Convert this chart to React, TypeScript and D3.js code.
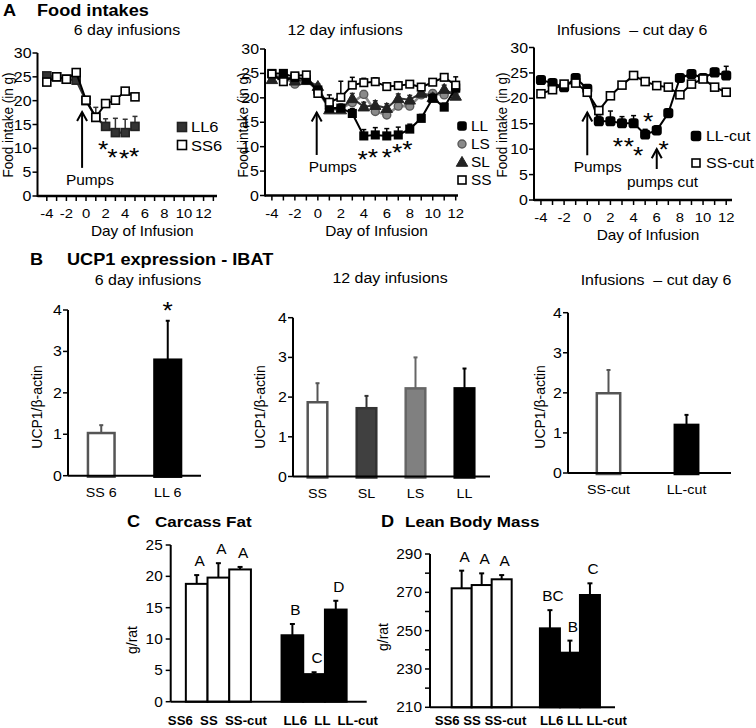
import React, { useEffect } from 'react';
import * as d3 from 'd3';

const FONT = '"Liberation Sans", Arial, Helvetica, sans-serif';
const SX = 1.1;

// ===== Panel A — food intake (g) per day of infusion =====
const days6 = [-4, -3, -2, -1, 0, 1, 2, 3, 4, 5];
const intakeLL6 = [25.2, 25.0, 24.5, 24.3, 20.0, 16.5, 14.6, 13.3, 13.3, 14.6];
const errLL6 = [0.5, 0.5, 0.6, 0.7, 0.6, 2.1, 1.6, 3.0, 2.8, 2.1];
const intakeSS6 = [23.9, 25.0, 24.5, 25.9, 20.1, 16.5, 19.4, 20.1, 22.0, 20.8];
const errSS6 = [0.5, 0.4, 0.6, 0.5, 0.6, 0.8, 0.6, 0.6, 0.6, 0.6];

const days12 = [-4, -3, -2, -1, 0, 1, 2, 3, 4, 5, 6, 7, 8, 9, 10, 11, 12];
const intakeSS = [24.9, 23.3, 24.5, 24.7, 20.9, 19.1, 20.1, 22.6, 23.1, 23.3, 22.3, 22.5, 22.8, 22.2, 23.2, 24.2, 22.6];
const errSS = [0.8, 0.5, 0.5, 0.6, 0.5, 1.5, 3.3, 1.6, 0.9, 0.8, 0.7, 0.8, 0.7, 0.7, 0.7, 0.7, 1.7];
const intakeLL = [25.0, 25.0, 24.2, 23.7, 21.6, 17.9, 17.9, 16.8, 12.2, 12.4, 12.2, 12.4, 13.6, 15.8, 19.9, 18.1, 22.0];
const errLL = [0.5, 0.5, 0.6, 0.6, 0.6, 0.6, 0.8, 1.0, 1.3, 1.5, 1.5, 1.6, 1.0, 0.8, 0.8, 0.8, 0.8];
const intakeLS = [24.5, 24.3, 22.8, 23.6, 21.5, 17.8, 17.9, 19.0, 20.7, 17.2, 16.5, 18.3, 18.3, 20.6, 20.9, 20.6, 21.6];
const errLS = [0.5, 0.5, 0.6, 0.5, 0.5, 0.6, 0.6, 0.7, 0.8, 0.7, 0.7, 0.7, 0.7, 0.7, 0.7, 0.7, 0.7];
const intakeSL = [23.8, 24.6, 23.5, 23.6, 22.4, 17.6, 17.6, 19.9, 18.2, 18.5, 17.9, 19.9, 19.6, 21.0, 20.1, 21.8, 20.4];
const errSL = [0.5, 0.5, 0.5, 0.5, 0.5, 0.6, 0.6, 1.0, 0.9, 0.9, 0.9, 0.9, 0.9, 0.8, 0.8, 0.8, 1.6];

const daysCut = [-4, -3, -2, -1, 0, 1, 2, 3, 4, 5, 6, 7, 8, 9, 10, 11, 12];
const intakeLLcut = [23.6, 23.0, 22.2, 24.0, 21.9, 15.5, 15.5, 15.1, 15.1, 12.9, 13.7, 17.1, 24.0, 24.8, 24.0, 25.1, 24.5];
const errLLcut = [0.5, 0.5, 0.5, 0.5, 0.6, 1.0, 2.0, 1.3, 1.5, 1.0, 0.9, 0.6, 0.6, 0.6, 0.6, 0.8, 1.8];
const intakeSScut = [20.9, 21.7, 22.8, 23.0, 21.2, 17.6, 20.5, 22.6, 24.5, 23.3, 22.5, 22.2, 20.7, 22.8, 23.8, 22.2, 21.2];
const errSScut = [0.5, 0.5, 0.5, 0.5, 0.5, 0.6, 0.5, 0.5, 0.5, 0.5, 0.5, 0.5, 0.5, 0.5, 0.7, 0.5, 0.5];

const intakeTicks = [0, 5, 10, 15, 20, 25, 30];
const dayTickLabels = [-4, -2, 0, 2, 4, 6, 8, 10, 12];

// significance stars (day, value)
const stars6Days = [1.75, 2.7, 3.9, 4.9];
const stars6Vals = [10.7, 9.0, 8.8, 9.2];
const stars12Days = [3.9, 4.8, 6.0, 6.9, 7.8];
const stars12Vals = [8.3, 8.7, 8.7, 9.7, 10.3];
const starsCutDays = [2.65, 3.6, 4.4, 5.25, 6.6];
const starsCutVals = [11.4, 11.4, 9.6, 16.3, 10.8];

// ===== Panel B — UCP1 expression =====
const ucp6Cats = ['SS 6', 'LL 6'];
const ucp6 = [1.03, 2.8];
const ucp6Err = [0.19, 0.94];
const ucp12Cats = ['SS', 'SL', 'LS', 'LL'];
const ucp12 = [1.87, 1.72, 2.22, 2.22];
const ucp12Err = [0.48, 0.31, 0.78, 0.5];
const ucpCutCats = ['SS-cut', 'LL-cut'];
const ucpCut = [1.99, 1.2];
const ucpCutErr = [0.58, 0.25];
const ucpTicks = [0, 1, 2, 3, 4];

// ===== Panel C — carcass fat =====
const groupKeys = ['SS', 'LL'];
const ssCats = ['SS6', 'SS', 'SS-cut'];
const llCats = ['LL6', 'LL', 'LL-cut'];
const fatSS = [18.8, 19.8, 21.1];
const fatSSErr = [1.4, 2.3, 0.4];
const fatSSLetters = ['A', 'A', 'A'];
const fatLL = [10.6, 4.4, 14.7];
const fatLLErr = [1.8, 0.3, 1.4];
const fatLLLetters = ['B', 'C', 'D'];
const fatTicks = [0, 5, 10, 15, 20, 25];

// ===== Panel D — lean body mass =====
const leanSS = [272.1, 273.8, 276.8];
const leanSSErr = [9.2, 6.1, 2.2];
const leanSSLetters = ['A', 'A', 'A'];
const leanLL = [251.2, 238.5, 268.6];
const leanLLErr = [9.5, 6.3, 6.1];
const leanLLLetters = ['BC', 'B', 'C'];
const leanTicks = [210, 230, 250, 270, 290];
const leanMinorTicks = [220, 240, 260, 280];

function Txt({ x, y, size = 13, anchor = 'start', weight = 'normal', fill = '#000', rot = false, children }: any) {
  const tr = rot
    ? `translate(${x},${y}) rotate(-90) scale(1,${SX})`
    : `translate(${x},${y}) scale(${SX},1)`;
  return (
    <text transform={tr} fontSize={size} textAnchor={anchor} fontWeight={weight} fill={fill}
      fontFamily={FONT} style={{ whiteSpace: 'pre' }}>{children}</text>
  );
}

function Mark({ shape, cx, cy, size, fill, stroke, rx = 0 }: any) {
  if (shape === 'square')
    return <rect x={cx - size / 2} y={cy - size / 2} width={size} height={size} rx={rx} fill={fill} stroke={stroke} strokeWidth={1.6} />;
  if (shape === 'circle')
    return <circle cx={cx} cy={cy} r={size / 2} fill={fill} stroke={stroke} strokeWidth={1.4} />;
  const p = d3.symbol(d3.symbolTriangle, size * size * 0.7)() as string;
  return <path d={p} transform={`translate(${cx},${cy + 1})`} fill={fill} stroke={stroke} strokeWidth={1} />;
}

function Arrow({ x, yTail, yHead }: any) {
  return (
    <g stroke="#000" strokeWidth={2} fill="none">
      <line x1={x} x2={x} y1={yTail} y2={yHead} />
      <path d={`M${x - 5},${yHead + 9}L${x},${yHead}L${x + 5},${yHead + 9}`} />
    </g>
  );
}

function LinePanel({ x, y, series, starDays, starVals }: any) {
  const [x0, x1] = x.range();
  const yb = y(0);
  const [d0, d1] = x.domain();
  const tickDays = d3.range(Math.ceil(d0), Math.floor(d1) + 1);
  return (
    <g>
      {series.map((s: any, si: number) => {
        const pts = s.days.map((d: number, i: number) => [x(d), y(s.vals[i])] as [number, number]);
        const path = d3.line()(pts) as string;
        return (
          <g key={si}>
            <path d={path} fill="none" stroke={s.line} strokeWidth={s.lw} />
            {s.err && s.days.map((d: number, i: number) => {
              const xt = x(d), ya = y(s.vals[i]), yt = y(s.vals[i] + s.err[i]);
              return (
                <g key={i} stroke={s.line} strokeWidth={1.5}>
                  <line x1={xt} x2={xt} y1={ya} y2={yt} />
                  <line x1={xt - 2.5} x2={xt + 2.5} y1={yt} y2={yt} />
                </g>
              );
            })}
            {s.days.map((d: number, i: number) => (
              <Mark key={i} shape={s.shape} cx={x(d)} cy={y(s.vals[i])} size={s.size} fill={s.fill} stroke={s.stroke} rx={s.rx || 0} />
            ))}
          </g>
        );
      })}
      {/* y axis */}
      <line x1={x0} x2={x0} y1={y(30)} y2={yb + 1} stroke="#000" strokeWidth={2} />
      {intakeTicks.map((t) => (
        <g key={t}>
          <line x1={x0 - 5} x2={x0} y1={y(t)} y2={y(t)} stroke="#000" strokeWidth={1.5} />
          <Txt x={x0 - 6} y={y(t) + 5} size={14.5} anchor="end">{t}</Txt>
        </g>
      ))}
      {/* x axis */}
      <line x1={x0} x2={x1} y1={yb} y2={yb} stroke="#000" strokeWidth={2.5} />
      {tickDays.map((t) => (
        <line key={t} x1={x(t)} x2={x(t)} y1={yb} y2={yb + 5} stroke="#000" strokeWidth={1.5} />
      ))}
      {dayTickLabels.map((d) => (
        <Txt key={d} x={x(d)} y={yb + 22} size={13.5} anchor="middle">{String(d)}</Txt>
      ))}
      <Txt x={(x0 + x1) / 2 + 15} y={yb + 40} size={14} anchor="middle">Day of Infusion</Txt>
      {starDays.map((d: number, i: number) => (
        <Txt key={i} x={x(d)} y={y(starVals[i]) + 13} size={24} anchor="middle">*</Txt>
      ))}
    </g>
  );
}

function BarPanel({ x, y, cats, vals, errs, fills, strokes, axisStart, axisEnd, star }: any) {
  const yb = y(0);
  return (
    <g>
      {cats.map((c: string, i: number) => {
        const bx = x(c) as number, bw = x.bandwidth();
        const cx = bx + bw / 2;
        const yt = y(vals[i]), ye = y(vals[i] + errs[i]);
        return (
          <g key={c}>
            <line x1={cx} x2={cx} y1={yt} y2={ye} stroke={strokes[i]} strokeWidth={2} />
            <line x1={cx - 2} x2={cx + 2} y1={ye} y2={ye} stroke={strokes[i]} strokeWidth={2} />
            <rect x={bx} y={yt} width={bw} height={yb - yt + 1} fill={fills[i]} stroke={strokes[i]} strokeWidth={2.5} />
            <Txt x={cx} y={yb + 21} size={13} anchor="middle">{c}</Txt>
            {star && star[i] ? <Txt x={cx} y={ye - 2} size={24} anchor="middle">{star[i]}</Txt> : null}
          </g>
        );
      })}
      <line x1={axisStart} x2={axisStart} y1={y(4)} y2={yb} stroke="#000" strokeWidth={2} />
      {ucpTicks.map((t) => (
        <g key={t}>
          <line x1={axisStart - 5} x2={axisStart} y1={y(t)} y2={y(t)} stroke="#000" strokeWidth={1.5} />
          <Txt x={axisStart - 6} y={y(t) + 5} size={14.5} anchor="end">{t}</Txt>
        </g>
      ))}
      <line x1={axisStart} x2={axisEnd} y1={yb} y2={yb} stroke="#000" strokeWidth={2} />
    </g>
  );
}

function GroupBars({ g, y, base, groups, axisStart, axisEnd, ticks, minor, labelOffsets, labelStrings, labelY }: any) {
  const yb = y(base);
  const top = y.domain()[1];
  return (
    <g>
      {groups.map((grp: any, gi: number) => {
        const gs = g(grp.key) as number;
        const inner = d3.scaleBand().domain(grp.cats).range([gs, gs + g.bandwidth()]).padding(0);
        return (
          <g key={grp.key}>
            {grp.cats.map((c: string, i: number) => {
              const bx = inner(c) as number, bw = inner.bandwidth();
              const cx = bx + bw / 2;
              const yt = y(grp.vals[i]), ye = y(grp.vals[i] + grp.errs[i]);
              return (
                <g key={c}>
                  <line x1={cx} x2={cx} y1={yt} y2={ye} stroke="#000" strokeWidth={2} />
                  <line x1={cx - 2.5} x2={cx + 2.5} y1={ye} y2={ye} stroke="#000" strokeWidth={2} />
                  <rect x={bx} y={yt} width={bw} height={yb - yt} fill={grp.fill} stroke="#000" strokeWidth={2} />
                  <Txt x={cx + 3} y={ye - 9} size={14} anchor="middle">{grp.letters[i]}</Txt>
                </g>
              );
            })}
            <Txt x={gs + labelOffsets[gi]} y={labelY} size={12} weight="bold">{labelStrings[gi]}</Txt>
          </g>
        );
      })}
      <line x1={axisStart} x2={axisStart} y1={y(top)} y2={yb} stroke="#000" strokeWidth={2} />
      {ticks.map((t: number) => (
        <g key={t}>
          <line x1={axisStart - 5} x2={axisStart} y1={y(t)} y2={y(t)} stroke="#000" strokeWidth={1.5} />
          <Txt x={axisStart - 8} y={y(t) + 5} size={14} anchor="end">{t}</Txt>
        </g>
      ))}
      {(minor || []).map((t: number) => (
        <line key={t} x1={axisStart - 5} x2={axisStart} y1={y(t)} y2={y(t)} stroke="#000" strokeWidth={1.5} />
      ))}
      <line x1={axisStart} x2={axisEnd} y1={yb} y2={yb} stroke="#000" strokeWidth={2} />
    </g>
  );
}

export default function App() {
  useEffect(() => {
    document.body.style.margin = '0';
  }, []);

  // ---- A scales
  const xA1 = d3.scaleLinear().domain([-4.95, 13.37]).range([37.5, 217]);
  const yA1 = d3.scaleLinear().domain([0, 30]).range([196, 53]);
  const xA2 = d3.scaleLinear().domain([-4.6, 12.2]).range([265, 458]);
  const yA2 = d3.scaleLinear().domain([0, 30]).range([195.5, 49]);
  const xA3 = d3.scaleLinear().domain([-4.6, 12.5]).range([534, 732]);
  const yA3 = d3.scaleLinear().domain([0, 30]).range([200, 47.5]);

  const openSq = { shape: 'square', fill: '#fff', stroke: '#000', line: '#000', lw: 2, size: 8 };
  const seriesA1 = [
    { days: days6, vals: intakeLL6, err: errLL6, shape: 'square', fill: '#333', stroke: '#222', line: '#333', lw: 2.2, size: 8 },
    { days: days6, vals: intakeSS6, err: errSS6, ...openSq },
  ];
  const seriesA2 = [
    { days: days12, vals: intakeLS, err: errLS, shape: 'circle', fill: '#8a8a8a', stroke: '#5a5a5a', line: '#8a8a8a', lw: 2.6, size: 8 },
    { days: days12, vals: intakeSL, err: errSL, shape: 'triangle', fill: '#222', stroke: '#222', line: '#333', lw: 2, size: 9 },
    { days: days12, vals: intakeLL, err: errLL, shape: 'square', fill: '#000', stroke: '#000', line: '#000', lw: 2, size: 7.5 },
    { days: days12, vals: intakeSS, err: errSS, ...openSq, size: 7.5 },
  ];
  const seriesA3 = [
    { days: daysCut, vals: intakeLLcut, err: errLLcut, shape: 'square', fill: '#000', stroke: '#000', line: '#000', lw: 2, size: 8.5, rx: 2 },
    { days: daysCut, vals: intakeSScut, err: errSScut, ...openSq },
  ];

  // ---- B scales
  const xB1 = d3.scaleBand().domain(ucp6Cats).range([68, 201]).paddingInner(0.6).paddingOuter(0.3);
  const yB1 = d3.scaleLinear().domain([0, 4]).range([475.7, 310]);
  const xB2 = d3.scaleBand().domain(ucp12Cats).range([293, 489]).paddingInner(0.6).paddingOuter(0.3);
  const yB2 = d3.scaleLinear().domain([0, 4]).range([476.5, 317.7]);
  const xB3 = d3.scaleBand().domain(ucpCutCats).range([569.5, 725.5]).paddingInner(0.7).paddingOuter(0.35);
  const yB3 = d3.scaleLinear().domain([0, 4]).range([473, 312.7]);

  // ---- C/D scales
  const gC = d3.scaleBand().domain(groupKeys).range([170.7, 366.7]).paddingInner(0.32).paddingOuter(0.184).align(0.43);
  const yC = d3.scaleLinear().domain([0, 25]).range([701.7, 545]);
  const gD = d3.scaleBand().domain(groupKeys).range([430, 615]).paddingInner(0.32).paddingOuter(0.208).align(0.59);
  const yD = d3.scaleLinear().domain([210, 290]).range([707.3, 554]);

  return (
    <svg width={756} height={728} style={{ display: 'block', position: 'absolute', left: 0, top: 0, background: '#fff' }}>
      <rect width={756} height={728} fill="#fff" />

      {/* ===== A ===== */}
      <Txt x={3} y={16} size={16.5} weight="bold">A</Txt>
      <Txt x={37} y={16} size={16.5} weight="bold">Food intakes</Txt>

      <Txt x={127} y={35} size={14.5} anchor="middle">6 day infusions</Txt>
      <Txt x={13} y={125} size={13.5} anchor="middle" rot>Food intake (in g)</Txt>
      <LinePanel x={xA1} y={yA1} series={seriesA1} starDays={stars6Days} starVals={stars6Vals} />
      <Arrow x={xA1(-0.4)} yTail={yA1(5.9)} yHead={yA1(17.6)} />
      <Txt x={xA1(0.4)} y={yA1(2.3)} size={14} anchor="middle">Pumps</Txt>
      <Mark shape="square" cx={182} cy={127} size={9} fill="#333" stroke="#222" />
      <Txt x={191} y={132} size={15}>LL6</Txt>
      <Mark shape="square" cx={182} cy={145} size={9} fill="#fff" stroke="#000" />
      <Txt x={191} y={150.5} size={15}>SS6</Txt>

      <Txt x={345} y={35} size={14.5} anchor="middle">12 day infusions</Txt>
      <Txt x={248} y={125} size={13.5} anchor="middle" rot>Food intake (in g)</Txt>
      <LinePanel x={xA2} y={yA2} series={seriesA2} starDays={stars12Days} starVals={stars12Vals} />
      <Arrow x={xA2(-0.1)} yTail={yA2(8.3)} yHead={yA2(17)} />
      <Txt x={xA2(1.3)} y={yA2(4.8)} size={14} anchor="middle">Pumps</Txt>
      <Mark shape="square" cx={462} cy={126} size={8} fill="#000" stroke="#000" rx={2} />
      <Txt x={471} y={131} size={14}>LL</Txt>
      <Mark shape="circle" cx={462} cy={144} size={8} fill="#8a8a8a" stroke="#5a5a5a" />
      <Txt x={471} y={149} size={14}>LS</Txt>
      <Mark shape="triangle" cx={462} cy={162} size={9} fill="#222" stroke="#222" />
      <Txt x={471} y={167} size={14}>SL</Txt>
      <Mark shape="square" cx={462} cy={180} size={8} fill="#fff" stroke="#000" />
      <Txt x={471} y={185} size={14}>SS</Txt>

      <Txt x={632} y={35} size={14.5} anchor="middle">{'Infusions  \u2013 cut day 6'}</Txt>
      <Txt x={507} y={125} size={13.5} anchor="middle" rot>Food intake (in g)</Txt>
      <LinePanel x={xA3} y={yA3} series={seriesA3} starDays={starsCutDays} starVals={starsCutVals} />
      <Arrow x={xA3(0)} yTail={yA3(8.8)} yHead={yA3(17.2)} />
      <Txt x={xA3(0.9)} y={yA3(5.5)} size={14} anchor="middle">Pumps</Txt>
      <Arrow x={xA3(6)} yTail={yA3(6.1)} yHead={yA3(10)} />
      <Txt x={xA3(6.5)} y={yA3(2.5)} size={14} anchor="middle">pumps cut</Txt>
      <Mark shape="square" cx={696} cy={136} size={9} fill="#000" stroke="#000" rx={2} />
      <Txt x={706} y={141} size={14.5}>LL-cut</Txt>
      <Mark shape="square" cx={696} cy={163} size={8} fill="#fff" stroke="#000" />
      <Txt x={706} y={168} size={14.5}>SS-cut</Txt>

      {/* ===== B ===== */}
      <Txt x={30} y={265} size={16.5} weight="bold">B</Txt>
      <Txt x={67} y={265} size={16.5} weight="bold">UCP1 expression - IBAT</Txt>

      <Txt x={148} y={285} size={14.5} anchor="middle">6 day infusions</Txt>
      <Txt x={42} y={407} size={14} anchor="middle" rot>{'UCP1/\u03b2-actin'}</Txt>
      <BarPanel x={xB1} y={yB1} cats={ucp6Cats} vals={ucp6} errs={ucp6Err}
        fills={['#fff', '#000']} strokes={['#555', '#000']} axisStart={68} axisEnd={201} star={['', '*']} />

      <Txt x={390} y={283} size={14.5} anchor="middle">12 day infusions</Txt>
      <Txt x={265} y={407} size={14} anchor="middle" rot>{'UCP1/\u03b2-actin'}</Txt>
      <BarPanel x={xB2} y={yB2} cats={ucp12Cats} vals={ucp12} errs={ucp12Err}
        fills={['#fff', '#404040', '#808080', '#000']} strokes={['#555', '#333', '#666', '#000']} axisStart={293} axisEnd={490} />

      <Txt x={656} y={285} size={14.5} anchor="middle">{'Infusions  \u2013 cut day 6'}</Txt>
      <Txt x={545} y={407} size={14} anchor="middle" rot>{'UCP1/\u03b2-actin'}</Txt>
      <BarPanel x={xB3} y={yB3} cats={ucpCutCats} vals={ucpCut} errs={ucpCutErr}
        fills={['#fff', '#000']} strokes={['#555', '#000']} axisStart={568} axisEnd={731} />

      {/* ===== C ===== */}
      <Txt x={127} y={527} size={16.5} weight="bold">C</Txt>
      <Txt x={155} y={527} size={15.5} weight="bold">Carcass Fat</Txt>
      <Txt x={137} y={640} size={14} anchor="middle" rot>g/rat</Txt>
      <GroupBars g={gC} y={yC} base={0} axisStart={170.7} axisEnd={366.7} ticks={fatTicks} labelY={725}
        groups={[
          { key: 'SS', cats: ssCats, vals: fatSS, errs: fatSSErr, letters: fatSSLetters, fill: '#fff' },
          { key: 'LL', cats: llCats, vals: fatLL, errs: fatLLErr, letters: fatLLLetters, fill: '#000' },
        ]}
        labelOffsets={[-18, 2]} labelStrings={['SS6  SS  SS-cut', 'LL6  LL  LL-cut']} />

      {/* ===== D ===== */}
      <Txt x={381} y={527} size={16.5} weight="bold">D</Txt>
      <Txt x={405} y={527} size={15.5} weight="bold">Lean Body Mass</Txt>
      <Txt x={388} y={637} size={14} anchor="middle" rot>g/rat</Txt>
      <GroupBars g={gD} y={yD} base={210} axisStart={430} axisEnd={615} ticks={leanTicks} minor={leanMinorTicks} labelY={725}
        groups={[
          { key: 'SS', cats: ssCats, vals: leanSS, errs: leanSSErr, letters: leanSSLetters, fill: '#fff' },
          { key: 'LL', cats: llCats, vals: leanLL, errs: leanLLErr, letters: leanLLLetters, fill: '#000' },
        ]}
        labelOffsets={[-17, 0]} labelStrings={['SS6 SS SS-cut', 'LL6 LL LL-cut']} />
    </svg>
  );
}
